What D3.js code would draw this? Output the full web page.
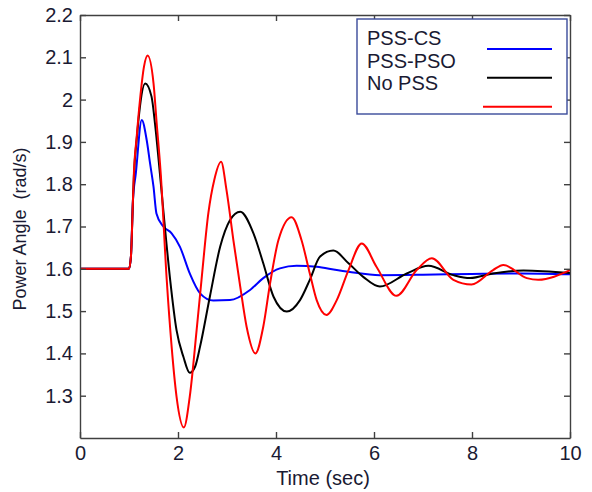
<!DOCTYPE html>
<html>
<head>
<meta charset="utf-8">
<script src="https://cdn.jsdelivr.net/npm/d3@7"></script>
<style>
    body { margin: 0; background: #ffffff; }
    text { font-family: "Liberation Sans", Arial, sans-serif; }
</style>
</head>
<body>
<div id="chart"></div>
<script>
// values (time in sec, power angle)
var seriesNames = ['PSS-CS', 'PSS-PSO', 'No PSS'];
var seriesColors = ['#0000ff', '#000000', '#ff0000'];

var csTime = [0, 1.0, 1.04, 1.08, 1.14, 1.26, 1.36, 1.43, 1.50, 1.56, 1.70, 1.87, 2.04, 2.24, 2.45, 2.72,
    3.06, 3.47, 3.74, 4.08, 4.42, 4.83, 5.24, 5.48, 6.12, 7.0, 8.0, 9.0, 10];
var csValue = [1.6, 1.6, 1.63, 1.76, 1.826, 1.952, 1.905, 1.849, 1.794, 1.731, 1.700, 1.684, 1.652, 1.589, 1.542, 1.525,
    1.526, 1.550, 1.578, 1.601, 1.607, 1.605, 1.597, 1.593, 1.585, 1.586, 1.588, 1.589, 1.587];

var psoTime = [0, 1.0, 1.04, 1.08, 1.10, 1.16, 1.21, 1.33, 1.46, 1.53, 1.63, 1.70, 1.84, 1.97, 2.11, 2.24, 2.35,
    2.45, 2.65, 2.86, 3.06, 3.27, 3.54, 3.74, 3.95, 4.22, 4.49, 4.69, 4.90, 5.17, 5.48, 5.78, 6.12, 6.67,
    7.11, 7.62, 7.96, 8.43, 9.05, 10];
var psoValue = [1.6, 1.6, 1.63, 1.76, 1.82, 1.91, 1.97, 2.038, 2.007, 1.944, 1.826, 1.739, 1.574, 1.455, 1.392, 1.354, 1.369,
    1.416, 1.534, 1.652, 1.715, 1.735, 1.684, 1.613, 1.534, 1.499, 1.526, 1.574, 1.629, 1.643, 1.613, 1.581, 1.558, 1.589,
    1.607, 1.585, 1.578, 1.589, 1.596, 1.590];

var noTime = [0, 1.0, 1.04, 1.08, 1.10, 1.157, 1.224, 1.306, 1.38, 1.50, 1.565, 1.647, 1.77, 1.87, 1.97, 2.12, 2.24,
    2.38, 2.48, 2.62, 2.74, 2.88, 2.99, 3.13, 3.27, 3.40, 3.58, 3.74, 3.88, 4.05, 4.32, 4.52, 4.69, 4.83, 5.03,
    5.24, 5.48, 5.75, 6.05, 6.46, 6.87, 7.18, 7.62, 7.99, 8.43, 8.64, 9.12, 9.35, 10];
var noValue = [1.6, 1.6, 1.63, 1.76, 1.826, 1.912, 1.999, 2.078, 2.104, 2.039, 1.944, 1.826, 1.574, 1.416, 1.298, 1.225, 1.298,
    1.455, 1.574, 1.732, 1.81, 1.853, 1.786, 1.668, 1.558, 1.463, 1.400, 1.463, 1.566, 1.668, 1.722, 1.668, 1.589, 1.526, 1.491,
    1.526, 1.597, 1.660, 1.605, 1.536, 1.597, 1.625, 1.574, 1.563, 1.597, 1.609, 1.578, 1.574, 1.597];

var xTicks = [0, 2, 4, 6, 8, 10];
var yTicks = [1.3, 1.4, 1.5, 1.6, 1.7, 1.8, 1.9, 2.0, 2.1, 2.2];

var width = 592, height = 492;
var plotLeft = 80, plotRight = 570, plotTop = 15, plotBottom = 438;

var svg = d3.select('#chart').append('svg')
    .attr('width', width)
    .attr('height', height);

var x = d3.scaleLinear().domain([0, 10]).range([plotLeft, plotRight]);
var y = d3.scaleLinear().domain([1.2, 2.2]).range([plotBottom, plotTop]);

var line = d3.line()
    .x(function (d) { return x(d[0]); })
    .y(function (d) { return y(d[1]); })
    .curve(d3.curveMonotoneX);

var series = [d3.zip(csTime, csValue), d3.zip(psoTime, psoValue), d3.zip(noTime, noValue)];

svg.append('g').selectAll('path')
    .data(series)
    .enter().append('path')
    .attr('d', line)
    .style('fill', 'none')
    .style('stroke', function (d, i) { return seriesColors[i]; })
    .style('stroke-width', '2px');

// axes, ticks pointing inwards on all four sides
function styleAxis(g) {
    g.selectAll('path').style('stroke', '#404040').style('stroke-width', '1.4px');
    g.selectAll('line').style('stroke', '#404040').style('stroke-width', '1.4px');
    g.selectAll('text').style('font-size', '20px').style('fill', '#1a1a33');
}

svg.append('g')
    .attr('transform', 'translate(0,' + plotBottom + ')')
    .call(d3.axisBottom(x).tickValues(xTicks).tickSizeInner(-6).tickSizeOuter(0).tickPadding(8).tickFormat(d3.format('d')))
    .call(styleAxis);
svg.append('g')
    .attr('transform', 'translate(0,' + plotTop + ')')
    .call(d3.axisTop(x).tickValues(xTicks).tickSizeInner(-6).tickSizeOuter(0).tickFormat(''))
    .call(styleAxis);
svg.append('g')
    .attr('transform', 'translate(' + plotLeft + ',0)')
    .call(d3.axisLeft(y).tickValues(yTicks).tickSizeInner(-6).tickSizeOuter(0).tickPadding(7).tickFormat(d3.format('~g')))
    .call(styleAxis);
svg.append('g')
    .attr('transform', 'translate(' + plotRight + ',0)')
    .call(d3.axisRight(y).tickValues(yTicks).tickSizeInner(-6).tickSizeOuter(0).tickFormat(''))
    .call(styleAxis);

svg.selectAll('.domain').style('fill', 'none');

svg.append('text')
    .attr('x', 323)
    .attr('y', 485)
    .attr('text-anchor', 'middle')
    .style('font-size', '20px')
    .style('fill', '#1a1a33')
    .text('Time (sec)');

svg.append('text')
    .attr('transform', 'translate(26,229) rotate(-90)')
    .attr('text-anchor', 'middle')
    .style('font-size', '18px')
    .style('fill', '#1a1a33')
    .style('white-space', 'pre')
    .text('Power Angle  (rad/s)');

// legend (line samples sit a little off their labels, as in the original)
var legend = svg.append('g');
legend.append('rect')
    .attr('x', 357)
    .attr('y', 19)
    .attr('width', 210)
    .attr('height', 95)
    .style('fill', '#ffffff')
    .style('stroke', '#3a4a9a')
    .style('stroke-width', '1.4px');

legend.selectAll('text')
    .data(seriesNames)
    .enter().append('text')
    .attr('x', 367)
    .attr('y', function (d, i) { return 45 + i * 22.5; })
    .style('font-size', '20px')
    .style('fill', '#1a1a33')
    .text(function (d) { return d; });

var sampleY = [49, 77.7, 106.7];
var sampleX0 = [487, 487, 483];
legend.selectAll('line')
    .data(seriesColors)
    .enter().append('line')
    .attr('x1', function (d, i) { return sampleX0[i]; })
    .attr('x2', 552)
    .attr('y1', function (d, i) { return sampleY[i]; })
    .attr('y2', function (d, i) { return sampleY[i]; })
    .style('stroke', function (d) { return d; })
    .style('stroke-width', '2px');
</script>
</body>
</html>
